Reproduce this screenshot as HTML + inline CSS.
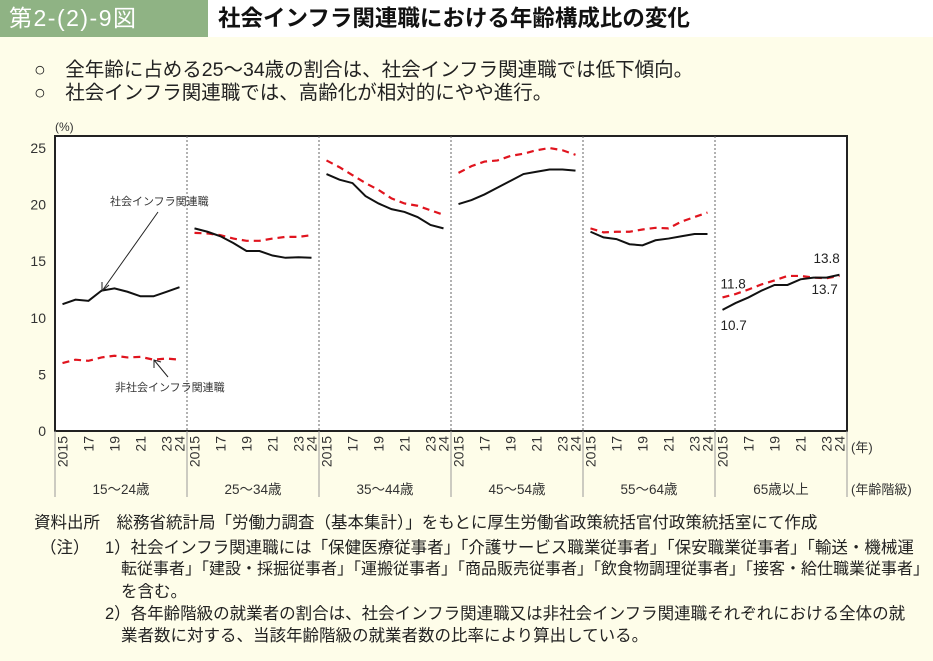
<!DOCTYPE html>
<html><head><meta charset="utf-8">
<style>
body{margin:0;width:933px;height:661px;background:#fefde9;font-family:"Liberation Sans","Noto Sans CJK JP",sans-serif;color:#222;position:relative;overflow:hidden}
.abs{position:absolute;white-space:nowrap}
.n{position:absolute;white-space:nowrap;font-size:16.5px;line-height:20px}
</style></head><body>
<div class="abs" style="left:0;top:0;width:208px;height:37px;background:#8fb384;color:#fff;font-size:23px;letter-spacing:1.5px;line-height:37px;padding-left:9px;box-sizing:border-box">第2-(2)-9図</div>
<div class="abs" style="left:208px;top:0;width:725px;height:37px;background:#fff;font-size:22.5px;font-weight:bold;line-height:37px;padding-left:10px;box-sizing:border-box;color:#111">社会インフラ関連職における年齢構成比の変化</div>
<div class="abs" style="left:34px;top:53px;font-size:19.5px">○　全年齢に占める25～34歳の割合は、社会インフラ関連職では低下傾向。</div>
<div class="abs" style="left:34px;top:76px;font-size:19.5px">○　社会インフラ関連職では、高齢化が相対的にやや進行。</div>

<svg id="chart" class="abs" style="left:0;top:0" width="933" height="661"></svg>

<div class="n" style="left:34px;top:513px">資料出所　総務省統計局「労働力調査（基本集計）」をもとに厚生労働省政策統括官付政策統括室にて作成</div>
<div class="n" style="left:40px;top:538px">（注）</div>
<div class="n" style="left:105px;top:538px">1）社会インフラ関連職には「保健医療従事者」「介護サービス職業従事者」「保安職業従事者」「輸送・機械運</div>
<div class="n" style="left:121px;top:560px;font-size:16px">転従事者」「建設・採掘従事者」「運搬従事者」「商品販売従事者」「飲食物調理従事者」「接客・給仕職業従事者」</div>
<div class="n" style="left:121px;top:582px">を含む。</div>
<div class="n" style="left:105px;top:604px">2）各年齢階級の就業者の割合は、社会インフラ関連職又は非社会インフラ関連職それぞれにおける全体の就</div>
<div class="n" style="left:121px;top:626px">業者数に対する、当該年齢階級の就業者数の比率により算出している。</div>

<script>
const groups=["15～24歳","25～34歳","35～44歳","45～54歳","55～64歳","65歳以上"];
const yearTicks=["2015","","17","","19","","21","","23","24"];
const yTicks=[0,5,10,15,20,25];
const infra15=[11.2,11.6,11.5,12.4,12.6,12.3,11.9,11.9,12.3,12.7];
const infra25=[17.9,17.6,17.2,16.6,15.9,15.9,15.5,15.3,15.35,15.3];
const infra35=[22.7,22.2,21.9,20.75,20.1,19.6,19.35,18.9,18.2,17.9];
const infra45=[20.05,20.4,20.9,21.5,22.1,22.7,22.9,23.1,23.1,23.0];
const infra55=[17.6,17.1,16.95,16.5,16.4,16.85,17.0,17.2,17.4,17.4];
const infra65=[10.7,11.3,11.8,12.4,12.9,12.9,13.4,13.55,13.55,13.8];
const non15=[6.0,6.3,6.2,6.5,6.65,6.5,6.55,6.3,6.4,6.3];
const non25=[17.5,17.45,17.3,17.0,16.8,16.8,17.0,17.15,17.15,17.3];
const non35=[23.9,23.3,22.6,21.9,21.3,20.55,20.1,19.9,19.5,19.1];
const non45=[22.8,23.4,23.8,23.9,24.3,24.5,24.8,25.0,24.8,24.4];
const non55=[17.9,17.55,17.6,17.6,17.8,17.95,17.9,18.5,18.9,19.3];
const non65=[11.8,12.1,12.5,12.95,13.3,13.7,13.7,13.55,13.5,13.7];
const infraSeries=[infra15,infra25,infra35,infra45,infra55,infra65];
const nonSeries=[non15,non25,non35,non45,non55,non65];

const svg=document.getElementById('chart');
const NS='http://www.w3.org/2000/svg';
const L=55,R=847,T=136,B=431;
const pw=(R-L)/groups.length;
function y(v){return B-v*(B-148)/25;}
function x(g,i){return L+g*pw+7.5+i*(pw-15)/9;}
function mk(tag,attrs){const e=document.createElementNS(NS,tag);for(const k in attrs)e.setAttribute(k,attrs[k]);svg.appendChild(e);return e;}
function txt(s,px,py,attrs){const e=mk('text',Object.assign({x:px,y:py,'font-size':12,fill:'#333','font-family':'"Liberation Sans","Noto Sans CJK JP",sans-serif'},attrs||{}));e.textContent=s;return e;}

const plot=mk('rect',{x:L,y:T,width:R-L,height:B-T,fill:'#fff',stroke:'#222','stroke-width':2});


const pct=txt('(%)',55,131,{'font-size':12});


yTicks.forEach(v=>{const t=txt(String(v),46,y(v)+5,{'text-anchor':'end','font-size':14});

});

groups.forEach((g,gi)=>{
  const gx=L+gi*pw;
  if(gi>0){const d=mk('line',{x1:gx,y1:T,x2:gx,y2:B,stroke:'#666','stroke-width':1,'stroke-dasharray':'2,2'});
  
  }
  const v=mk('line',{x1:gx,y1:B,x2:gx,y2:497,stroke:'#999','stroke-width':1});
  
  
  yearTicks.forEach((s,i)=>{if(!s)return;const px=x(gi,i)+5;const t=txt(s,px,436,{'text-anchor':'end','font-size':14,transform:`rotate(-90 ${px} 436)`});
  
  });
  const gl=txt(g,gx+pw/2,494,{'text-anchor':'middle','font-size':13.5});
  
  
  const pn=nonSeries[gi].map((v,i)=>x(gi,i)+','+y(v)).join(' ');
  const ln=mk('polyline',{points:pn,fill:'none',stroke:'#e0141e','stroke-width':2.2,'stroke-dasharray':'7,5'});
  
  
  const pi=infraSeries[gi].map((v,i)=>x(gi,i)+','+y(v)).join(' ');
  const li=mk('polyline',{points:pi,fill:'none',stroke:'#111','stroke-width':2});
  
  
});
const last=mk('line',{x1:R,y1:B,x2:R,y2:497,stroke:'#999','stroke-width':1});


const yu=txt('(年)',851,452,{'font-size':13});


const gu=txt('(年齢階級)',851,494,{'font-size':13});



const a1=txt('社会インフラ関連職',110,205,{'font-size':11});


const ar1=mk('line',{x1:158,y1:212,x2:102,y2:291,stroke:'#222','stroke-width':1});


const h1=mk('polyline',{points:'102,282 102,291 109,285',fill:'none',stroke:'#222','stroke-width':1});


const a2=txt('非社会インフラ関連職',115,391,{'font-size':11});


const ar2=mk('line',{x1:168,y1:377,x2:154,y2:360,stroke:'#222','stroke-width':1});


const h2=mk('polyline',{points:'154,368 154,360 161,362',fill:'none',stroke:'#222','stroke-width':1});


const g6=5;
const vl=[[non65[0].toFixed(1),x(g6,0)-2,y(non65[0])-9],[infra65[0].toFixed(1),x(g6,0)-2,y(infra65[0])+20],[infra65[9].toFixed(1),x(g6,9)-26,y(infra65[9])-12],[non65[9].toFixed(1),x(g6,9)-28,y(non65[9])+18]];
vl.forEach(a=>{const t=txt(a[0],a[1],a[2],{'font-size':13.5,fill:'#222'});

});
</script>
</body></html>
